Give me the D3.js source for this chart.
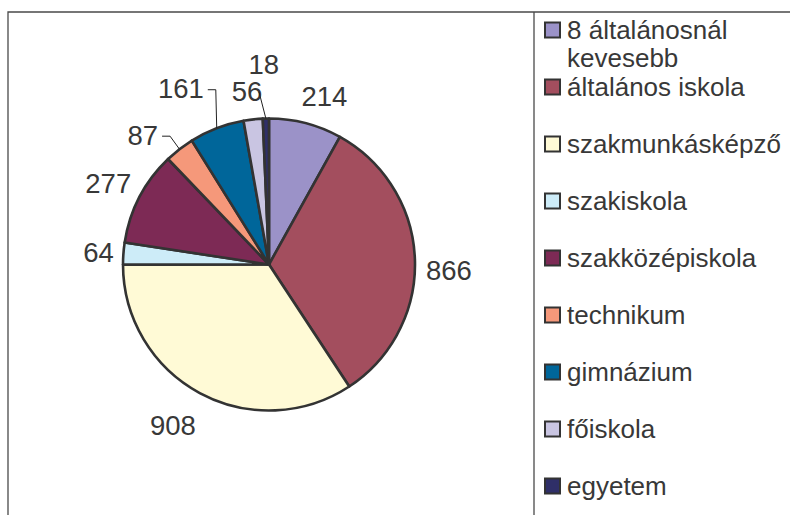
<!DOCTYPE html>
<html>
<head>
<meta charset="utf-8">
<script src="https://cdn.jsdelivr.net/npm/d3@7"></script>
<style>
  html, body { margin: 0; padding: 0; background: #fff; }
  svg { display: block; font-family: "Liberation Sans", Arial, sans-serif; }
</style>
</head>
<body>
<div id="chart"></div>
<script>
// categories and counts, in clockwise order from 12 o'clock
const categories = [
  ['8 általánosnál', 'kevesebb'],
  ['általános iskola'],
  ['szakmunkásképző'],
  ['szakiskola'],
  ['szakközépiskola'],
  ['technikum'],
  ['gimnázium'],
  ['főiskola'],
  ['egyetem']
];
const values = [214, 866, 908, 64, 277, 87, 161, 56, 18];
const colors = ['#9b92c8', '#a34e5e', '#fffad6', '#cdecf8', '#7d2a55',
  '#f5987a', '#00669a', '#c9c5e2', '#2f2f68'];

const width = 790,
  height = 515;
const cx = 269,
  cy = 264.5,
  radius = 146;
const ink = '#383838';

// label placement: angle nudge (degrees) and distance from centre
const labelShift = [3.7, 3.9, 2.6, 0, -0.7, -6.4, -5.6, -1, -0.3];
const labelDist = [177, 180, 187, 171, 180, 181, 197, 175, 200];
const rad = Math.PI / 180;

const polar = (a, r) => [cx + r * Math.sin(a), cy - r * Math.cos(a)];

const svg = d3.select('#chart').append('svg')
  .attr('width', width)
  .attr('height', height)
  .attr('viewBox', [0, 0, width, height]);

// frame lines
const frame = svg.append('g')
  .attr('stroke', '#4a4a4a')
  .attr('stroke-width', 1.3)
  .attr('fill', 'none');
frame.append('path').attr('d', `M8,${height}V12H${width}`);
frame.append('path').attr('d', `M534,12V${height}`);

const pie = d3.pie().sort(null).value(d => d);
const arcs = pie(values);
const arc = d3.arc().innerRadius(0).outerRadius(radius);

svg.append('g')
  .attr('transform', `translate(${cx},${cy})`)
  .selectAll('path')
  .data(arcs)
  .join('path')
  .attr('d', arc)
  .attr('fill', (d, i) => colors[i])
  .attr('stroke', '#333')
  .attr('stroke-width', 2.6)
  .attr('stroke-linejoin', 'round');

const mid = d => (d.startAngle + d.endAngle) / 2;

const labels = svg.append('g')
  .attr('font-size', 27.5)
  .attr('fill', ink)
  .attr('text-anchor', 'middle')
  .selectAll('text')
  .data(arcs)
  .join('text')
  .each(function(d, i) {
    const [x, y] = polar(mid(d) + labelShift[i] * rad, labelDist[i]);
    d3.select(this).attr('x', x).attr('y', y).attr('dy', '0.36em');
  })
  .text(d => d.value);

// leader lines for the small slices
const leaders = svg.append('g')
  .attr('stroke', '#222')
  .attr('stroke-width', 1)
  .attr('fill', 'none');

[5, 6].forEach(i => {
  const node = labels.nodes()[i];
  const b = node.getBBox();
  const y = b.y + b.height / 2 + 1;
  const end = polar(mid(arcs[i]), radius);
  leaders.append('path')
    .attr('d', d3.line()([[b.x + b.width + 4, y], [b.x + b.width + 12, y], end]));
});
leaders.append('path')
  .attr('d', d3.line()([polar(mid(arcs[8]) - 2.1 * rad, 173), polar(mid(arcs[8]), radius)]));

// legend
const legendY = d3.scaleLinear().domain([0, 1]).range([30, 87]);

const legend = svg.append('g')
  .selectAll('g')
  .data(categories)
  .join('g')
  .attr('transform', (d, i) => `translate(545,${legendY(i)})`);

legend.append('rect')
  .attr('x', 0)
  .attr('y', -7.5)
  .attr('width', 15)
  .attr('height', 15)
  .attr('fill', (d, i) => colors[i])
  .attr('stroke', '#333')
  .attr('stroke-width', 2);

legend.append('text')
  .attr('x', 22)
  .attr('y', 8.5)
  .attr('font-size', 26)
  .attr('fill', ink)
  .selectAll('tspan')
  .data(d => d)
  .join('tspan')
  .attr('x', 22)
  .attr('dy', (d, j) => j ? 28.4 : 0)
  .text(d => d);
</script>
</body>
</html>
